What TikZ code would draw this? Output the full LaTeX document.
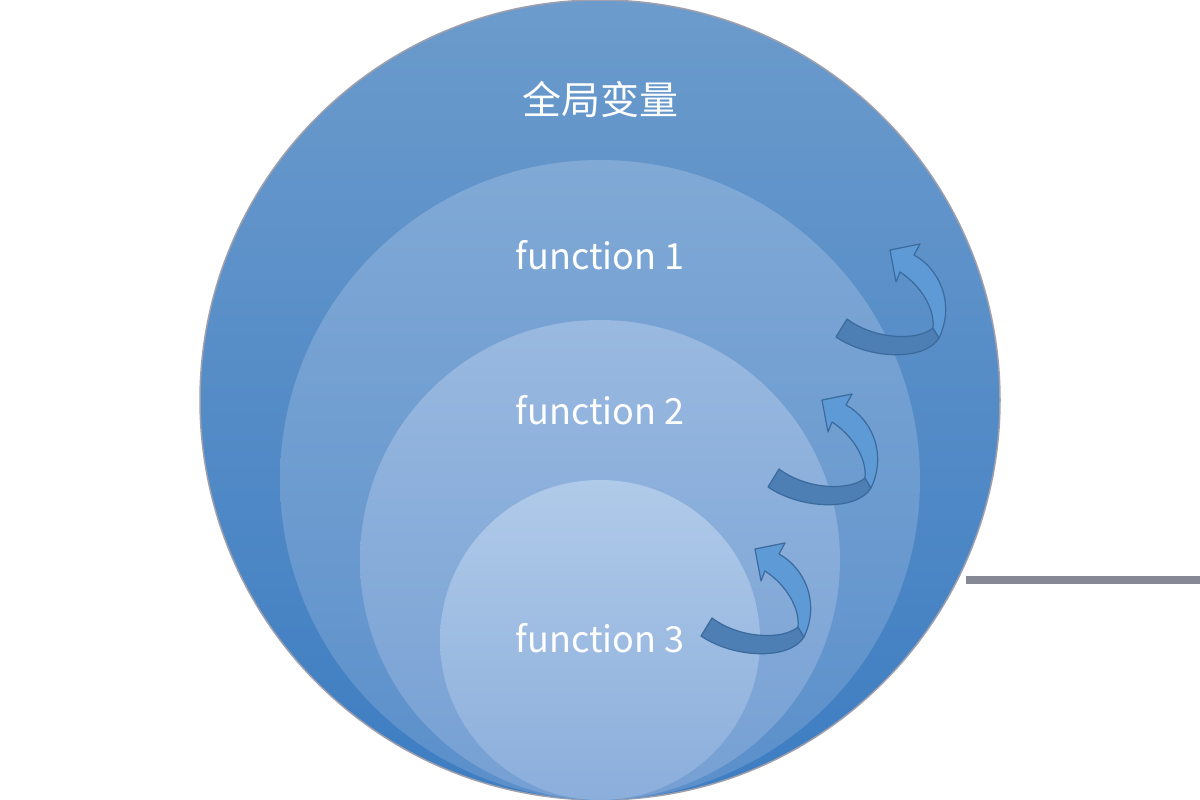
\documentclass[tikz,border=0pt]{standalone}
\usepackage{fontspec}
\setmainfont{Noto Sans CJK SC}
\begin{document}
\begin{tikzpicture}[x=1pt,y=-1pt,
  lbl/.style={text=white,font=\fontsize{36}{42}\selectfont,inner sep=0pt,anchor=center},
  lblcn/.style={lbl,font=\fontsize{39}{44}\selectfont},
  arrdark/.style={fill=arrDark,draw=arrLine,line width=1.2pt,line join=round},
  arrlight/.style={fill=arrLight,draw=arrLine,line width=1.2pt,line join=round}]
\definecolor{c1t}{HTML}{6C9BCC}\definecolor{c1b}{HTML}{3D7DC2}
\definecolor{c2t}{HTML}{81A9D6}\definecolor{c2b}{HTML}{5A8FCA}
\definecolor{c3t}{HTML}{99B9E0}\definecolor{c3b}{HTML}{759FD3}
\definecolor{c4t}{HTML}{B0CAE9}\definecolor{c4b}{HTML}{8BAEDB}
\definecolor{arrDark}{HTML}{4D7EB4}
\definecolor{arrLight}{HTML}{5E9AD6}
\definecolor{arrLine}{HTML}{3B6A9C}
\definecolor{grayline}{HTML}{878896}
\useasboundingbox (0,0) rectangle (1200,800);
\coordinate (L1) at (966,580);
\coordinate (L2) at (1200,580);
\draw[grayline,line width=8pt] (L1) -- (L2);
\node[circle,minimum size=800pt,inner sep=0pt,top color=c1t,bottom color=c1b,draw=grayline!80,line width=1.5pt] (C1) at (600,400) {};
\node[circle,minimum size=640pt,inner sep=0pt,top color=c2t,bottom color=c2b] (C2) at (600,480) {};
\node[circle,minimum size=480pt,inner sep=0pt,top color=c3t,bottom color=c3b] (C3) at (600,560) {};
\node[circle,minimum size=320pt,inner sep=0pt,top color=c4t,bottom color=c4b] (C4) at (600,640) {};
\node[lblcn] (t0) at (600,100) {全局变量};
\node[lbl] (t1) at (600,255) {function 1};
\node[lbl] (t2) at (600,410) {function 2};
\node[lbl] (t3) at (600,638) {function 3};
\foreach \sx/\sy in {0/0,-68/150,-135/299}{
\begin{scope}[shift={(\sx,\sy)}]
\path[arrdark] (847,319) .. controls (875,340) and (918,341) .. (933,328)
  -- (939,338) .. controls (925,361) and (870,360) .. (836,337) -- cycle;
\path[arrlight] (933,328) .. controls (935,308) and (920,285) .. (900,272)
  -- (896,282) -- (890,250) -- (920,244) -- (914,255)
  .. controls (938,268) and (956,302) .. (939,338) -- cycle;
\end{scope}}
\end{tikzpicture}
\end{document}
